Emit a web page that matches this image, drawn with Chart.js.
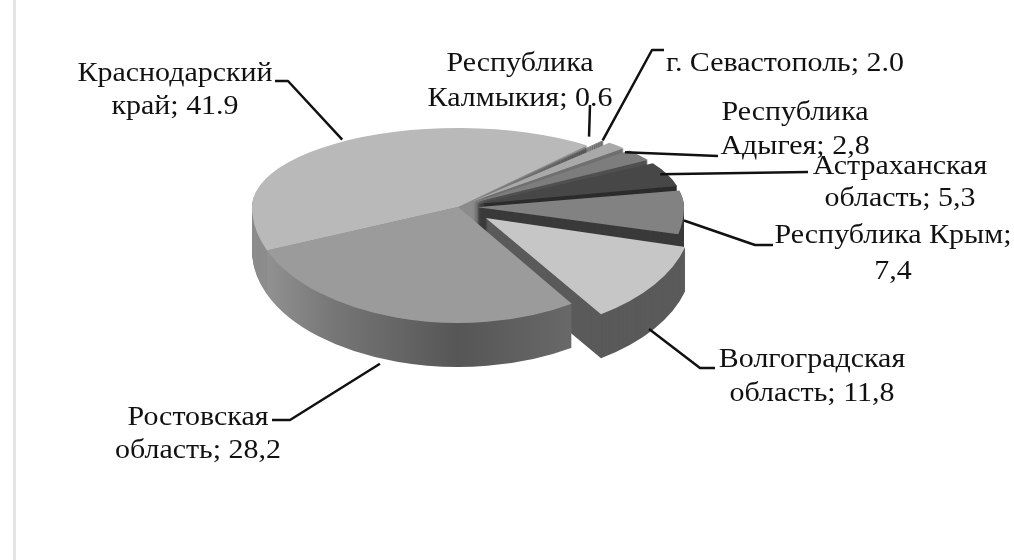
<!DOCTYPE html>
<html lang="ru">
<head>
<meta charset="utf-8">
<title>Распределение по регионам</title>
<script src="https://cdn.jsdelivr.net/npm/chart.js@4/dist/chart.umd.min.js"></script>
<style>
  html, body { margin: 0; padding: 0; background: #fff; }
  #wrap { position: relative; width: 1014px; height: 560px; overflow: hidden; }
  #wrap::before { content: ""; position: absolute; left: 13px; top: 0; bottom: 0; width: 3px; background: #e4e4e4; }
  canvas { position: absolute; left: 0; top: 0; filter: blur(0.6px); }
</style>
</head>
<body>
<div id="wrap"><canvas id="chart" width="1014" height="560"></canvas></div>
<script>
// Data, in slice order (clockwise)
const regions = ["Краснодарский край", "Республика Калмыкия", "г. Севастополь", "Республика Адыгея",
                 "Астраханская область", "Республика Крым", "Волгоградская область", "Ростовская область"]
const shares = [41.9, 0.6, 2.0, 2.8, 5.3, 7.4, 11.8, 28.2]
const labelLines = [
  ["Краснодарский", "край; 41.9"],
  ["Республика", "Калмыкия; 0.6"],
  ["г. Севастополь; 2.0"],
  ["Республика", "Адыгея; 2,8"],
  ["Астраханская", "область; 5,3"],
  ["Республика Крым;", "7,4"],
  ["Волгоградская", "область; 11,8"],
  ["Ростовская", "область; 28,2"],
]

// Styles
const topColors  = ["#b9b9b9", "#5c5c5c", "#a9a9a9", "#7d7d7d", "#474747", "#828282", "#c6c6c6", "#9b9b9b"]
const wallColors = ["#8c8c8c", "#3c3c3c", "#707070", "#505050", "#2c2c2c", "#3a3a3a", "#5a5a5a", null]
const sliceOffsets = [0, 80, 80, 80, 80, 80, 136, 0] // Chart.js divides by 4

const RADIUS = 206
const CENTER = { x: 458, y: 207 }
const SQUASH_BACK = 0.383   // fake perspective: back half is flatter than the front
const SQUASH_FRONT = 0.563
const DEPTH = 44
const TEXT_STRETCH = 1.07   // the original type is wider than Liberation Serif

// Label centre and line gap, leader points from the text to the rim, nudge of the rim anchor
const labelBoxes = [
  { x: 175, y: 74,  gap: 33, leader: [[275, 81], [288, 81]], nudge: [7, -4], wall: false },
  { x: 520, y: 64,  gap: 35, leader: [[590, 105]], nudge: [-14, -4], wall: false },
  { x: 785, y: 64,  gap: 0,  leader: [[664, 50], [652, 50]], nudge: [-14, -5], wall: false },
  { x: 795, y: 113, gap: 34, leader: [[718, 156]], nudge: [-14, -3], wall: false },
  { x: 900, y: 167, gap: 32, leader: [[808, 172]], nudge: [-7, 0], wall: false },
  { x: 893, y: 236, gap: 36, leader: [[773, 245], [755, 245]], nudge: [0, 12], wall: false },
  { x: 812, y: 360, gap: 34, leader: [[715, 368], [700, 368]], nudge: [-5, 0], wall: true },
  { x: 198, y: 418, gap: 33, leader: [[272, 420], [290, 420]], nudge: [-17, 2], wall: true },
]

// Chart.js grows an exploded arc by offset * fix, so take that back to keep one rim.
function trimRadius(arc) {
  const off = arc.options.offset / 4
  const fix = 1 - Math.sin(Math.min(Math.PI, arc.circumference))
  arc.outerRadius = RADIUS - off * fix
}

// Draws one arc through the library with the squashed projection, dy pixels down.
function drawProjected(ctx, arc, dy, fill) {
  const saved = arc.options
  if (fill) arc.options = Object.create(saved, { backgroundColor: { value: fill } })
  const splitY = CENTER.y + dy
  const parts = [[0, splitY, SQUASH_BACK], [splitY, 560 - splitY, SQUASH_FRONT]]
  parts.forEach(([top, h, k]) => {
    ctx.save()
    ctx.beginPath()
    ctx.rect(0, top, 1014, h)
    ctx.clip()
    ctx.translate(CENTER.x, splitY)
    ctx.scale(1, k)
    ctx.translate(-arc.x, -arc.y)
    arc.draw(ctx)
    ctx.restore()
  })
  arc.options = saved
}

const pie3d = {
  id: "pie3d",
  beforeDatasetDraw(chart, args) {
    const ctx = chart.ctx
    const arcs = args.meta.data
    arcs.forEach((arc, i) => {
      trimRadius(arc)
      let wall = wallColors[i]
      if (!wall) {
        wall = ctx.createLinearGradient(arc.x - RADIUS, 0, arc.x + RADIUS, 0)
        wall.addColorStop(0, "#979797")
        wall.addColorStop(0.2, "#767676")
        wall.addColorStop(0.5, "#565656")
        wall.addColorStop(0.8, "#6a6a6a")
        wall.addColorStop(1, "#5e5e5e")
      }
      for (let dy = DEPTH; dy >= 1; dy--) drawProjected(ctx, arc, dy, wall)
      drawProjected(ctx, arc, 0)
    })
    return false
  },
  afterDraw(chart) {
    const ctx = chart.ctx
    const arcs = chart.getDatasetMeta(0).data
    ctx.save()
    ctx.strokeStyle = "#111"
    ctx.lineWidth = 2.5
    ctx.lineJoin = "round"
    labelBoxes.forEach((box, i) => {
      const arc = arcs[i]
      const mid = (arc.startAngle + arc.endAngle) / 2
      const reach = RADIUS + arc.options.offset / 4
      const x = CENTER.x + Math.cos(mid) * reach + box.nudge[0]
      const sin = Math.sin(mid) * reach
      const y = CENTER.y + sin * (sin < 0 ? SQUASH_BACK : SQUASH_FRONT) + (box.wall ? DEPTH : 0) + box.nudge[1]
      ctx.beginPath()
      box.leader.forEach(([px, py], j) => { if (j === 0) ctx.moveTo(px, py); else ctx.lineTo(px, py) })
      ctx.lineTo(x, y)
      ctx.stroke()
    })
    ctx.fillStyle = "#111"
    ctx.font = '28px "Liberation Serif"'
    ctx.textAlign = "center"
    ctx.textBaseline = "middle"
    labelBoxes.forEach((box, i) => {
      labelLines[i].forEach((line, j) => {
        ctx.save()
        ctx.translate(box.x, box.y + j * box.gap)
        ctx.scale(TEXT_STRETCH, 1)
        ctx.fillText(line, 0, 0)
        ctx.restore()
      })
    })
    ctx.restore()
  },
}

new Chart(document.getElementById("chart"), {
  type: "pie",
  data: {
    labels: regions,
    datasets: [{
      data: shares,
      backgroundColor: topColors,
      borderWidth: 0,
      offset: sliceOffsets,
      radius: RADIUS,
    }],
  },
  options: {
    responsive: false,
    animation: false,
    rotation: 248,
    layout: { padding: { right: 98 } },
    plugins: { legend: { display: false }, tooltip: { enabled: false } },
    events: [],
  },
  plugins: [pie3d],
})
</script>
</body>
</html>
